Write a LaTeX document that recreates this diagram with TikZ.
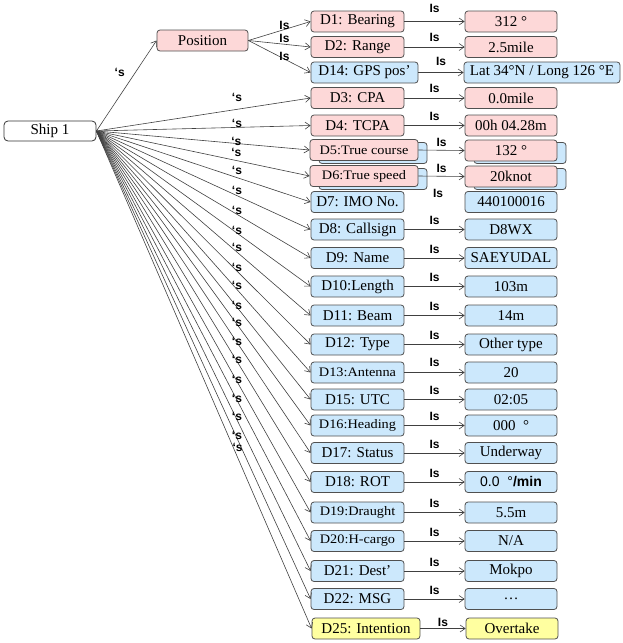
\documentclass[tikz,border=0pt]{standalone}
\usepackage{fontspec}
\setmainfont{Liberation Serif}
\newfontfamily\widserif[FakeStretch=1.1]{Liberation Serif}
\newfontfamily\tagsans{Liberation Sans}
\usetikzlibrary{arrows.meta}

\definecolor{pinkfill}{RGB}{253,216,216}
\definecolor{bluefill}{RGB}{204,232,252}
\definecolor{yellowfill}{RGB}{255,255,160}
\definecolor{boxline}{RGB}{80,80,80}
\definecolor{connline}{RGB}{64,64,64}

\newcommand\bxfont{\fontsize{15}{16}\selectfont}
\newcommand\smfont{\widserif\fontsize{13}{14}\selectfont}
\newcommand\tgfont{\tagsans\bfseries\fontsize{12}{13}\selectfont}

\tikzset{
  box/.style={draw=boxline, line width=0.8pt, rounded corners=3pt,
    minimum height=21pt, inner sep=0pt, font=\bxfont, text=black},
  pinkbox/.style={box, fill=pinkfill},
  bluebox/.style={box, fill=bluefill},
  yellowbox/.style={box, fill=yellowfill},
  keycol/.style={minimum width=93pt},
  keywide/.style={minimum width=108pt},
  valcol/.style={minimum width=92pt},
  conn/.style={draw=connline, line width=0.6pt,
    -{Straight Barb[length=5pt,width=7pt]}},
  tag/.style={font=\tgfont, inner sep=0pt, text=black},
}

\begin{document}
\begin{tikzpicture}[x=1pt, y=-1pt]
\useasboundingbox (0,0) rectangle (622,643);

% root and position group
\node[box, fill=white, draw=black!80, rounded corners=4pt, minimum width=92pt, minimum height=20pt] (ship) at (50,131) {Ship 1};
\node[pinkbox, minimum width=91pt] (pos) at (202.5,40.5) {Position};

\node[pinkbox, keycol] (d1) at (357.5,21.5) {D1: Bearing};
\node[pinkbox, keycol] (d2) at (357.5,47) {D2: Range};
\node[bluebox, minimum width=107pt] (d14) at (364.5,72.5) {D14: GPS pos’};

\node[pinkbox, valcol] (vd1) at (511,21.5) {312 °};
\node[pinkbox, valcol] (vd2) at (511,47) {2.5mile};
\node[bluebox, minimum width=156pt] (vd14) at (542,72.5) {Lat 34°N / Long 126 °E};

% key column
\node[pinkbox, keycol] (d3) at (357.5,98) {D3: CPA};
\node[pinkbox, keycol] (d4) at (357.5,125.5) {D4: TCPA};
\node[bluebox, keywide] (d5s) at (373,153) {};
\node[pinkbox, keywide, font=\smfont] (d5) at (364,150) {D5:True course};
\node[bluebox, keywide] (d6s) at (373,179) {};
\node[pinkbox, keywide, font=\smfont] (d6) at (364,176) {D6:True speed};
\node[bluebox, keycol] (d7) at (357.5,202) {D7: IMO No.};
\node[bluebox, keycol] (d8) at (357.5,229.5) {D8: Callsign};
\node[bluebox, keycol] (d9) at (357.5,258) {D9: Name};
\node[bluebox, keycol] (d10) at (357.5,286.5) {D10:Length};
\node[bluebox, keycol] (d11) at (357.5,315.5) {D11: Beam};
\node[bluebox, keycol] (d12) at (357.5,344.5) {D12: Type};
\node[bluebox, keycol, font=\smfont] (d13) at (357.5,372.5) {D13:Antenna};
\node[bluebox, keycol] (d15) at (357.5,399.5) {D15: UTC};
\node[bluebox, keycol, font=\smfont] (d16) at (357.5,425.5) {D16:Heading};
\node[bluebox, keycol] (d17) at (357.5,453) {D17: Status};
\node[bluebox, keycol] (d18) at (357.5,482) {D18: ROT};
\node[bluebox, keycol, font=\smfont] (d19) at (357.5,512.5) {D19:Draught};
\node[bluebox, keycol, font=\smfont] (d20) at (357.5,541) {D20:H-cargo};
\node[bluebox, keycol] (d21) at (357.5,571) {D21: Dest’};
\node[bluebox, keycol] (d22) at (357.5,599) {D22: MSG};
\node[yellowbox, keywide] (d25) at (366,628.5) {D25: Intention};

% value column
\node[pinkbox, valcol] (vd3) at (511,98) {0.0mile};
\node[pinkbox, valcol] (vd4) at (511,125.5) {00h 04.28m};
\node[bluebox, valcol] (vd5s) at (520,153) {};
\node[pinkbox, valcol] (vd5) at (511,150.5) {132 °};
\node[bluebox, valcol] (vd6s) at (520,179) {};
\node[pinkbox, valcol] (vd6) at (511,176.5) {20knot};
\node[bluebox, valcol] (vd7) at (511,202) {440100016};
\node[bluebox, valcol] (vd8) at (511,229.5) {D8WX};
\node[bluebox, valcol] (vd9) at (511,258) {SAEYUDAL};
\node[bluebox, valcol] (vd10) at (511,286.5) {103m};
\node[bluebox, valcol] (vd11) at (511,315.5) {14m};
\node[bluebox, valcol] (vd12) at (511,344.5) {Other type};
\node[bluebox, valcol] (vd13) at (511,372.5) {20};
\node[bluebox, valcol] (vd15) at (511,399.5) {02:05};
\node[bluebox, valcol] (vd16) at (511,425.5) {000\ \ °};
\node[bluebox, valcol] (vd17) at (511,453) {Underway};
\node[bluebox, valcol, font={\tagsans\fontsize{14}{15}\selectfont}] (vd18) at (511,482) {0.0 \ °\textbf{/min}};
\node[bluebox, valcol] (vd19) at (511,512.5) {5.5m};
\node[bluebox, valcol] (vd20) at (511,541) {N/A};
\node[bluebox, valcol] (vd21) at (511,571) {Mokpo};
\node[bluebox, valcol] (vd22) at (511,599) {…};
\node[yellowbox, valcol] (vd25) at (512,628.5) {Overtake};

% ship to position
\draw[conn] (ship.east) -- (pos.west)
  node[tag, pos=0.62, xshift=-14pt, yshift=2pt] {‘s};

% position to its parts
\foreach \n/\s in {d1/4, d2/6, d14/3}
  \draw[conn] (pos.east) -- (\n.west) node[tag, pos=0.58, yshift=\s pt] {Is};

% ship to every key
\foreach \n/\s in {d3/12, d4/4, d5/2, d6/8.5, d7/7.5, d8/5.5, d9/4, d10/3,
    d11/5, d12/4, d13/4, d15/2, d16/1.5, d17/1, d18/1.5, d19/1.5, d20/2,
    d21/3, d22/3, d25/10}
  \draw[conn] (ship.east) -- (\n.west) node[tag, pos=0.656, yshift=\s pt] {‘s};

% keys to values
\foreach \n/\s in {d1/13, d2/10, d14/11, d3/10, d4/9, d5/8, d6/8, d8/9.5,
    d9/9, d10/9, d11/9, d12/9, d13/10, d15/9, d16/9, d17/9, d18/9, d19/9,
    d20/9, d21/9, d22/9, d25/6.5}
  \draw[conn] (\n.east) -- (v\n.west) node[tag, midway, yshift=\s pt] {Is};

\node[tag] (isd7) at (438,193) {Is};
\end{tikzpicture}
\end{document}
